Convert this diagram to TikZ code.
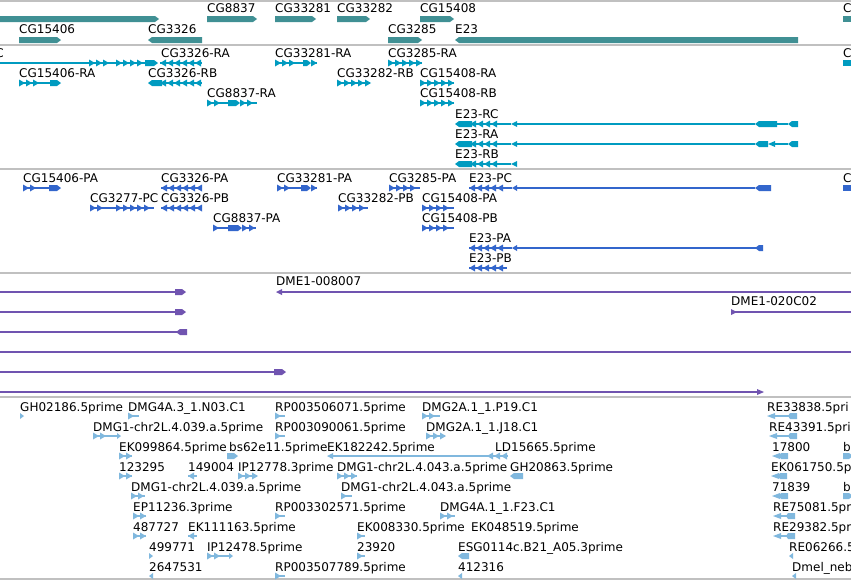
\documentclass[tikz,border=0pt]{standalone}
\usepackage{fontspec}
\setmainfont{DejaVu Sans}
\definecolor{gene}{RGB}{64,144,148}
\definecolor{tx}{RGB}{0,155,192}
\definecolor{prot}{RGB}{51,102,204}
\definecolor{pur}{RGB}{112,84,176}
\definecolor{est}{RGB}{128,184,222}
\definecolor{sep}{RGB}{192,192,192}
% chevron rows
\newcommand\chR[4]{\draw[#4,line width=1.2pt] (#1,#3) -- (#2,#3);\pgfmathtruncatemacro\nch{max(0,(#2-#1-5)/7)}\foreach \k in {0,...,\nch}{\fill[#4] ({#1+7*\k},#3-3.5) -- ++(6,3.5) -- ++(-6,3.5) -- cycle;}}
\newcommand\chL[4]{\draw[#4,line width=1.2pt] (#1,#3) -- (#2,#3);\pgfmathtruncatemacro\nch{max(0,(#2-#1-5)/7)}\foreach \k in {0,...,\nch}{\fill[#4] ({#1+7*\k+6},#3-3.5) -- ++(-6,3.5) -- ++(6,3.5) -- cycle;}}
\newcommand\blkR[4]{\fill[#4] (#1,#3-3) -- ({#2-4},#3-3) -- (#2,#3) -- ({#2-4},#3+3) -- (#1,#3+3) -- cycle;}
\newcommand\blkL[4]{\fill[#4] (#2,#3-3) -- ({#1+4},#3-3) -- (#1,#3) -- ({#1+4},#3+3) -- (#2,#3+3) -- cycle;}
\newcommand\triR[4]{\fill[#4] (#1,#3-3) -- (#2,#3) -- (#1,#3+3) -- cycle;}
\newcommand\triL[4]{\fill[#4] (#2,#3-3) -- (#1,#3) -- (#2,#3+3) -- cycle;}
\newcommand\hl[4]{\draw[#4,line width=1.2pt] (#1,#3) -- (#2,#3);}
\newcommand\pairL[3]{\fill[est] (#1,#3) -- (#1+8,#3-3) -- (#1+8,#3+3) -- cycle;\draw[est,line width=1.2pt] (#1+8,#3) -- (#2-7,#3);\fill[est] (#2-7,#3-3) -- (#2,#3-3) -- (#2,#3+3) -- (#2-7,#3+3) -- (#2-9,#3) -- cycle;}
\newcommand\lab[4]{\node[lbl] (#1) at (#2,#3) {#4};}
\tikzset{lbl/.style={anchor=base west,inner sep=0pt,font=\fontsize{12}{14}\selectfont,text=black}}
\begin{document}
\begin{tikzpicture}[x=1pt,y=-1pt]
\clip (0,0) rectangle (851,581);
\fill[white] (0,0) rectangle (851,581);
% separators
\foreach \yy in {1,45,169,273,397,579}{\draw[sep,line width=1.3pt] (0,\yy) -- (851,\yy);}
% ---------------- track 1: genes
\blkR{-2}{159}{19}{gene}
\blkR{207}{257}{19}{gene}
\blkR{275}{316}{19}{gene}
\blkR{337}{370}{19}{gene}
\blkR{420}{454}{19}{gene}
\fill[gene] (843,16) rectangle (853,22);
\blkR{19}{61}{40}{gene}
\blkL{148}{202}{40}{gene}
\blkR{388}{422}{40}{gene}
\blkL{455}{798}{40}{gene}
\lab{g1}{207}{12}{CG8837}
\lab{g2}{275}{12}{CG33281}
\lab{g3}{337}{12}{CG33282}
\lab{g4}{420}{12}{CG15408}
\lab{g5}{843}{12}{C}
\lab{g6}{19}{33}{CG15406}
\lab{g7}{148}{33}{CG3326}
\lab{g8}{388}{33}{CG3285}
\lab{g9}{455}{33}{E23}
% ---------------- track 2: transcripts
\hl{-2}{89}{63}{tx}\chR{89}{110}{63}{tx}\hl{110}{116}{63}{tx}\chR{116}{147}{63}{tx}\blkR{145}{158}{63}{tx}
\chL{160}{202}{63}{tx}
\chR{275}{295}{63}{tx}\hl{295}{303}{63}{tx}\blkR{303}{311}{63}{tx}\chR{311}{317}{63}{tx}
\chR{388}{422}{63}{tx}
\fill[tx] (843,60) rectangle (853,66);
\chR{19}{40}{83}{tx}\hl{40}{50}{83}{tx}\blkR{50}{61}{83}{tx}
\blkL{148}{162}{83}{tx}\chL{160}{202}{83}{tx}
\chR{337}{370}{83}{tx}
\chR{420}{454}{83}{tx}
\chR{207}{222}{103}{tx}\hl{222}{228}{103}{tx}\blkR{228}{240}{103}{tx}\chR{240}{257}{103}{tx}
\chR{420}{454}{103}{tx}
\blkL{455}{472}{124}{tx}\chL{470}{498}{124}{tx}\hl{498}{511}{124}{tx}\triL{511}{517}{124}{tx}\hl{517}{755}{124}{tx}\blkL{755}{777}{124}{tx}\hl{777}{788}{124}{tx}\blkL{788}{798}{124}{tx}
\blkL{455}{472}{144}{tx}\chL{470}{498}{144}{tx}\hl{498}{511}{144}{tx}\triL{511}{517}{144}{tx}\hl{517}{755}{144}{tx}\blkL{755}{768}{144}{tx}\triL{768}{775}{144}{tx}\hl{775}{788}{144}{tx}\blkL{788}{798}{144}{tx}
\blkL{455}{472}{164}{tx}\chL{470}{498}{164}{tx}\hl{498}{511}{164}{tx}\triL{511}{517}{164}{tx}
\node[lbl,anchor=base east] (r0) at (4,57) {C};
\lab{r1}{161}{57}{CG3326-RA}
\lab{r2}{275}{57}{CG33281-RA}
\lab{r3}{388}{57}{CG3285-RA}
\lab{r4}{843}{57}{C}
\lab{r5}{19}{77}{CG15406-RA}
\lab{r6}{148}{77}{CG3326-RB}
\lab{r7}{337}{77}{CG33282-RB}
\lab{r8}{420}{77}{CG15408-RA}
\lab{r9}{207}{97}{CG8837-RA}
\lab{r10}{420}{97}{CG15408-RB}
\lab{r11}{455}{118}{E23-RC}
\lab{r12}{455}{138}{E23-RA}
\lab{r13}{455}{158}{E23-RB}
% ---------------- track 3: proteins
\chR{23}{40}{188}{prot}\hl{40}{49}{188}{prot}\blkR{49}{61}{188}{prot}
\chL{161}{202}{188}{prot}
\chR{277}{292}{188}{prot}\hl{292}{301}{188}{prot}\blkR{301}{311}{188}{prot}\chR{311}{317}{188}{prot}
\chR{389}{420}{188}{prot}
\chL{469}{505}{188}{prot}\hl{505}{512}{188}{prot}\triL{512}{517}{188}{prot}\hl{517}{755}{188}{prot}\blkL{755}{771}{188}{prot}
\fill[prot] (843,185) rectangle (853,191);
\chR{90}{106}{208}{prot}\hl{106}{116}{208}{prot}\chR{116}{154}{208}{prot}
\chL{161}{202}{208}{prot}
\chR{338}{368}{208}{prot}
\chR{422}{454}{208}{prot}
\chR{213}{220}{228}{prot}\hl{220}{228}{228}{prot}\blkR{228}{242}{228}{prot}\chR{242}{256}{228}{prot}
\chR{422}{454}{228}{prot}
\chL{469}{505}{248}{prot}\hl{505}{512}{248}{prot}\triL{512}{517}{248}{prot}\hl{517}{763}{248}{prot}\blkL{755}{763}{248}{prot}
\chL{469}{507}{268}{prot}
\lab{p1}{23}{182}{CG15406-PA}
\lab{p2}{161}{182}{CG3326-PA}
\lab{p3}{277}{182}{CG33281-PA}
\lab{p4}{389}{182}{CG3285-PA}
\lab{p5}{469}{182}{E23-PC}
\lab{p6}{843}{182}{C}
\lab{p7}{90}{202}{CG3277-PC}
\lab{p8}{161}{202}{CG3326-PB}
\lab{p9}{338}{202}{CG33282-PB}
\lab{p10}{422}{202}{CG15408-PA}
\lab{p11}{213}{222}{CG8837-PA}
\lab{p12}{422}{222}{CG15408-PB}
\lab{p13}{469}{242}{E23-PA}
\lab{p14}{469}{262}{E23-PB}
% ---------------- track 4: purple
\tikzset{pl/.style={pur,line width=1.3pt}}
\draw[pl] (-2,292) -- (180,292); \blkR{175}{186}{292}{pur}
\draw[pl] (280,292) -- (853,292); \triL{276}{282}{292}{pur}
\draw[pl] (-2,312) -- (180,312); \blkR{175}{186}{312}{pur}
\draw[pl] (735,312) -- (853,312); \triR{731}{737}{312}{pur}
\draw[pl] (-2,332) -- (180,332); \blkL{176}{187}{332}{pur}
\draw[pl] (-2,352) -- (853,352);
\draw[pl] (-2,372) -- (280,372); \blkR{274}{286}{372}{pur}
\draw[pl] (-2,392) -- (760,392); \triR{757}{764}{392}{pur}
\lab{d1}{276}{285}{DME1-008007}
\lab{d2}{731}{305}{DME1-020C02}
% ---------------- track 5: ESTs
\triR{20}{24}{416}{est}
\chR{128}{139}{416}{est}
\chR{275}{285}{416}{est}
\chR{422}{440}{416}{est}
\pairL{767}{797}{416}
\chR{93}{108}{436}{est}\hl{108}{117}{436}{est}\triR{117}{121}{436}{est}
\chR{275}{285}{436}{est}
\chR{426}{445}{436}{est}
\pairL{769}{797}{436}
\chR{119}{132}{456}{est}
\blkR{227}{238}{456}{est}
\triL{327}{333}{456}{est}\hl{333}{487}{456}{est}\chL{487}{508}{456}{est}
\pairL{772}{788}{456}
\blkR{843}{853}{456}{est}
\chR{119}{132}{476}{est}
\chL{188}{197}{476}{est}
\chR{238}{257}{476}{est}
\chR{337}{357}{476}{est}
\blkL{510}{523}{476}{est}
\pairL{771}{787}{476}
\chR{131}{145}{496}{est}
\chR{341}{352}{496}{est}
\pairL{772}{788}{496}
\blkR{843}{853}{496}{est}
\chR{133}{146}{516}{est}
\chR{275}{285}{516}{est}
\chR{440}{455}{516}{est}
\pairL{773}{795}{516}
\chR{133}{146}{536}{est}
\chL{188}{197}{536}{est}
\chR{357}{365}{536}{est}
\pairL{773}{795}{536}
\triR{149}{153}{556}{est}
\chR{207}{223}{556}{est}\hl{223}{230}{556}{est}\triR{229}{233}{556}{est}
\chR{357}{365}{556}{est}
\blkL{458}{469}{556}{est}
\triL{789}{793}{556}{est}
\triL{149}{153}{576}{est}
\chR{275}{285}{576}{est}
\triL{458}{462}{576}{est}
\triL{792}{796}{576}{est}
\lab{e1}{20}{411}{GH02186.5prime}
\lab{e2}{128}{411}{DMG4A.3\_1.N03.C1}
\lab{e3}{275}{411}{RP003506071.5prime}
\lab{e4}{422}{411}{DMG2A.1\_1.P19.C1}
\lab{e5}{767}{411}{RE33838.5pri}
\lab{e6}{93}{431}{DMG1-chr2L.4.039.a.5prime}
\lab{e7}{275}{431}{RP003090061.5prime}
\lab{e8}{426}{431}{DMG2A.1\_1.J18.C1}
\lab{e9}{769}{431}{RE43391.5pri}
\lab{e10}{119}{451}{EK099864.5prime}
\lab{e11}{229}{451}{bs62e11.5prime}
\lab{e12}{327}{451}{EK182242.5prime}
\lab{e13}{495}{451}{LD15665.5prime}
\lab{e14}{772}{451}{17800}
\lab{e15}{843}{451}{b}
\lab{e16}{119}{471}{123295}
\lab{e17}{188}{471}{149004}
\lab{e18}{238}{471}{IP12778.3prime}
\lab{e19}{337}{471}{DMG1-chr2L.4.043.a.5prime}
\lab{e20}{510}{471}{GH20863.5prime}
\lab{e21}{771}{471}{EK061750.5p}
\lab{e22}{131}{491}{DMG1-chr2L.4.039.a.5prime}
\lab{e23}{341}{491}{DMG1-chr2L.4.043.a.5prime}
\lab{e24}{772}{491}{71839}
\lab{e25}{843}{491}{b}
\lab{e26}{133}{511}{EP11236.3prime}
\lab{e27}{275}{511}{RP003302571.5prime}
\lab{e28}{440}{511}{DMG4A.1\_1.F23.C1}
\lab{e29}{773}{511}{RE75081.5pr}
\lab{e30}{133}{531}{487727}
\lab{e31}{188}{531}{EK111163.5prime}
\lab{e32}{357}{531}{EK008330.5prime}
\lab{e33}{471}{531}{EK048519.5prime}
\lab{e34}{773}{531}{RE29382.5pr}
\lab{e35}{149}{551}{499771}
\lab{e36}{207}{551}{IP12478.5prime}
\lab{e37}{357}{551}{23920}
\lab{e38}{458}{551}{ESG0114c.B21\_A05.3prime}
\lab{e39}{789}{551}{RE06266.5}
\lab{e40}{149}{571}{2647531}
\lab{e41}{275}{571}{RP003507789.5prime}
\lab{e42}{458}{571}{412316}
\lab{e43}{792}{571}{Dmel\_neb}
\end{tikzpicture}
\end{document}
